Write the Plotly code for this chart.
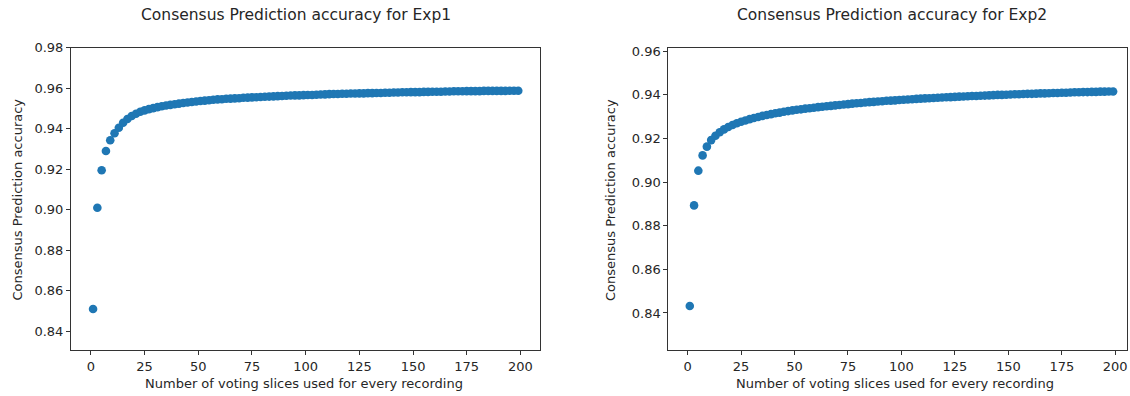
import plotly.graph_objects as go

# number of voting slices (odd values 1..199)
slices = list(range(1, 200, 2))

acc_exp1 = [
    0.851, 0.901, 0.9195, 0.929, 0.9343, 0.9378, 0.9405, 0.9430, 0.9448, 0.9463,
    0.9474, 0.9484, 0.9491, 0.9497, 0.9502, 0.9507, 0.9511, 0.9515, 0.9518, 0.9521,
    0.9524, 0.9527, 0.9530, 0.9532, 0.9535, 0.9537, 0.9539, 0.9541, 0.9543, 0.9545,
    0.9546, 0.9548, 0.9549, 0.9550, 0.9551, 0.9553, 0.9554, 0.9555, 0.9556, 0.9557,
    0.9558, 0.9559, 0.9560, 0.9561, 0.9562, 0.9563, 0.9564, 0.9565, 0.9565, 0.9566,
    0.9567, 0.9567, 0.9568, 0.9569, 0.9570, 0.9571, 0.9572, 0.9572, 0.9573, 0.9573,
    0.9574, 0.9574, 0.9575, 0.9575, 0.9576, 0.9576, 0.9577, 0.9577, 0.9578, 0.9578,
    0.9579, 0.9579, 0.9580, 0.9580, 0.9581, 0.9581, 0.9581, 0.9582, 0.9582, 0.9583,
    0.9583, 0.9583, 0.9584, 0.9584, 0.9585, 0.9585, 0.9585, 0.9586, 0.9586, 0.9586,
    0.9586, 0.9587, 0.9587, 0.9587, 0.9587, 0.9587, 0.9587, 0.9588, 0.9588, 0.9588,
]

acc_exp2 = [
    0.8432, 0.8893, 0.9052, 0.9122, 0.9162, 0.9192, 0.9212, 0.9228, 0.9241, 0.9252,
    0.9261, 0.9269, 0.9276, 0.9282, 0.9288, 0.9293, 0.9298, 0.9303, 0.9307, 0.9311,
    0.9315, 0.9318, 0.9322, 0.9325, 0.9328, 0.9331, 0.9333, 0.9336, 0.9338, 0.9340,
    0.9343, 0.9345, 0.9347, 0.9349, 0.9351, 0.9353, 0.9355, 0.9357, 0.9359, 0.9361,
    0.9362, 0.9364, 0.9366, 0.9367, 0.9369, 0.9370, 0.9372, 0.9373, 0.9374, 0.9376,
    0.9377, 0.9378, 0.9379, 0.9381, 0.9382, 0.9383, 0.9384, 0.9385, 0.9386, 0.9387,
    0.9388, 0.9389, 0.9390, 0.9391, 0.9392, 0.9393, 0.9394, 0.9394, 0.9395, 0.9396,
    0.9397, 0.9398, 0.9399, 0.9399, 0.9400, 0.9401, 0.9402, 0.9402, 0.9403, 0.9404,
    0.9404, 0.9405, 0.9406, 0.9406, 0.9407, 0.9408, 0.9408, 0.9409, 0.9409, 0.9410,
    0.9411, 0.9411, 0.9412, 0.9412, 0.9413, 0.9413, 0.9414, 0.9414, 0.9415, 0.9415,
]

titles = ["Consensus Prediction accuracy for Exp1", "Consensus Prediction accuracy for Exp2"]
x_label = "Number of voting slices used for every recording"
y_label = "Consensus Prediction accuracy"
x_ticks = [0, 25, 50, 75, 100, 125, 150, 175, 200]
y_ticks_1 = [0.84, 0.86, 0.88, 0.90, 0.92, 0.94, 0.96, 0.98]
y_ticks_2 = [0.84, 0.86, 0.88, 0.90, 0.92, 0.94, 0.96]

W, H = 1130, 396
FONT = "DejaVu Sans"
BLUE = "#1f77b4"
TXT = "#262626"

fig = go.Figure()
fig.add_trace(go.Scatter(x=slices, y=acc_exp1, mode="markers",
                         marker=dict(color=BLUE, size=8.6, line=dict(width=0)),
                         xaxis="x", yaxis="y", showlegend=False))
fig.add_trace(go.Scatter(x=slices, y=acc_exp2, mode="markers",
                         marker=dict(color=BLUE, size=8.6, line=dict(width=0)),
                         xaxis="x2", yaxis="y2", showlegend=False))

def px_x(p):
    return p / W

def px_y(p):
    return (H - p) / H

axis_common = dict(showgrid=False, zeroline=False, showline=True, mirror=True,
                   linecolor="#333333", linewidth=1, ticks="outside", ticklen=4,
                   tickwidth=1, tickcolor="#333333",
                   tickfont=dict(family=FONT, size=13, color=TXT))

y_dom = [px_y(349.5), px_y(41.5)]

fig.update_layout(
    width=W, height=H,
    margin=dict(l=0, r=0, t=0, b=0),
    paper_bgcolor="white", plot_bgcolor="white",
    xaxis=dict(domain=[px_x(71), px_x(540)], range=[-9.3, 208.9],
               tickvals=x_ticks, anchor="y", **axis_common),
    yaxis=dict(domain=y_dom, range=[0.8306, 0.98], tickvals=y_ticks_1,
               tickformat=".2f", anchor="x", **axis_common),
    xaxis2=dict(domain=[px_x(669), px_x(1128)], range=[-9.0, 205.5],
                tickvals=x_ticks, anchor="y2", **axis_common),
    yaxis2=dict(domain=y_dom, range=[0.8229, 0.9615], tickvals=y_ticks_2,
                tickformat=".2f", anchor="x2", **axis_common),
)

annots = [
    dict(text=titles[0], x=px_x(296), y=px_y(8.5), size=15.5, angle=0),
    dict(text=titles[1], x=px_x(893), y=px_y(8.5), size=15.5, angle=0),
    dict(text=x_label, x=px_x(304), y=px_y(383), size=13, angle=0),
    dict(text=x_label, x=px_x(896), y=px_y(383), size=13, angle=0),
    dict(text=y_label, x=px_x(18), y=px_y(196), size=13, angle=-90),
    dict(text=y_label, x=px_x(611), y=px_y(196), size=13, angle=-90),
]
for a in annots:
    fig.add_annotation(text=a["text"], x=a["x"], y=a["y"], xref="paper", yref="paper",
                       xanchor="center", yanchor="middle", showarrow=False,
                       textangle=a["angle"],
                       font=dict(family=FONT, size=a["size"], color=TXT))

fig.write_html("out.html", config={"displayModeBar": False},
               post_script="document.body.style.margin='0';document.body.style.overflow='hidden';")
